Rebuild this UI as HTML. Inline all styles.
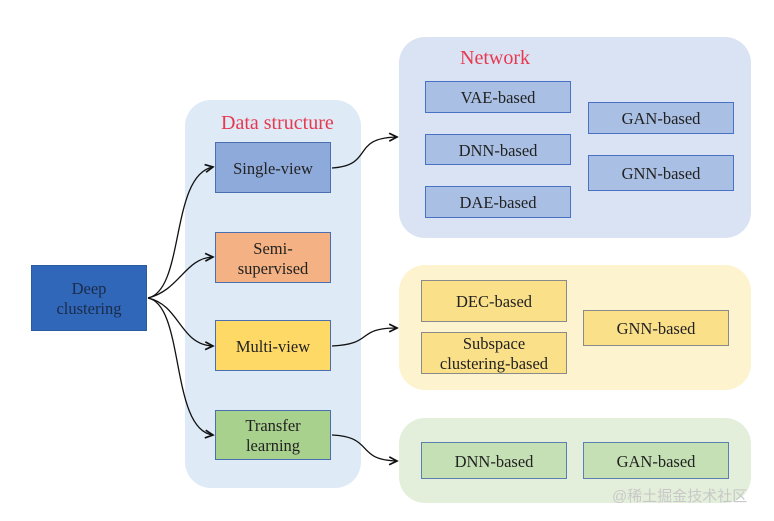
<!DOCTYPE html>
<html><head><meta charset="utf-8"><style>
body{margin:0;width:774px;height:521px;background:#fff;overflow:hidden;position:relative;font-family:"Liberation Serif",serif;}
.p{position:absolute;border-radius:26px;}
.b{position:absolute;box-sizing:border-box;display:flex;align-items:center;justify-content:center;text-align:center;font-size:16.5px;line-height:20px;color:#222;padding-top:2px;}
.t{position:absolute;color:#e8384f;font-size:20px;}
</style></head><body>
<div class="p" style="left:185px;top:100px;width:176px;height:388px;background:#deebf7;"></div>
<div class="p" style="left:399px;top:37px;width:352px;height:201px;background:#dae3f3;"></div>
<div class="p" style="left:399px;top:265px;width:352px;height:125px;background:#fdf3cf;"></div>
<div class="p" style="left:399px;top:418px;width:352px;height:85px;background:#e3efda;"></div>
<div class="t" style="left:221px;top:112px;">Data structure</div>
<div class="t" style="left:460px;top:47px;">Network</div>

<div class="b" style="left:31px;top:265px;width:116px;height:66px;background:#3067b8;border:1px solid #2a5aa0;color:#1b2b4a;">Deep<br>clustering</div>
<div class="b" style="left:215px;top:142px;width:116px;height:51px;background:#8eaadb;border:1.5px solid #4a6fb0;">Single-view</div>
<div class="b" style="left:215px;top:232px;width:116px;height:51px;background:#f4b183;border:1.5px solid #4a6fb0;">Semi-<br>supervised</div>
<div class="b" style="left:215px;top:320px;width:116px;height:51px;background:#ffd966;border:1.5px solid #4a6fb0;">Multi-view</div>
<div class="b" style="left:215px;top:410px;width:116px;height:50px;background:#a9d18e;border:1.5px solid #4a6fb0;">Transfer<br>learning</div>

<div class="b" style="left:425px;top:81px;width:146px;height:32px;background:#a9bfe3;border:1.5px solid #4a72c4;">VAE-based</div>
<div class="b" style="left:425px;top:134px;width:146px;height:31px;background:#a9bfe3;border:1.5px solid #4a72c4;">DNN-based</div>
<div class="b" style="left:425px;top:186px;width:146px;height:32px;background:#a9bfe3;border:1.5px solid #4a72c4;">DAE-based</div>
<div class="b" style="left:588px;top:102px;width:146px;height:32px;background:#a9bfe3;border:1.5px solid #4a72c4;">GAN-based</div>
<div class="b" style="left:588px;top:155px;width:146px;height:36px;background:#a9bfe3;border:1.5px solid #4a72c4;">GNN-based</div>

<div class="b" style="left:421px;top:280px;width:146px;height:42px;background:#fbe08a;border:1.5px solid #8a8a8a;">DEC-based</div>
<div class="b" style="left:421px;top:332px;width:146px;height:42px;background:#fbe08a;border:1.5px solid #8a8a8a;">Subspace<br>clustering-based</div>
<div class="b" style="left:583px;top:310px;width:146px;height:36px;background:#fbe08a;border:1.5px solid #8a8a8a;">GNN-based</div>

<div class="b" style="left:421px;top:442px;width:146px;height:37px;background:#c5e0b4;border:1.5px solid #5a7fb0;">DNN-based</div>
<div class="b" style="left:583px;top:442px;width:146px;height:37px;background:#c5e0b4;border:1.5px solid #5a7fb0;">GAN-based</div>

<div style="position:absolute;left:612px;top:485px;font-size:15px;color:#c8c8c8;font-family:'Liberation Sans','Noto Sans CJK SC',sans-serif;">@稀土掘金技术社区</div>

<svg width="774" height="521" style="position:absolute;left:0;top:0" fill="none" stroke="#111" stroke-width="1.3">
<defs><marker id="a" markerWidth="8" markerHeight="8" refX="7" refY="4" orient="auto"><path d="M1,1 L7,4 L1,7" stroke="#111" fill="none"/></marker></defs>
<path d="M148,298 C185,290 170,175 213,167" marker-end="url(#a)"/>
<path d="M148,298 C180,290 185,258 213,257" marker-end="url(#a)"/>
<path d="M148,298 C180,305 180,345 213,346" marker-end="url(#a)"/>
<path d="M148,298 C185,305 170,430 213,435" marker-end="url(#a)"/>
<path d="M332,168 C375,165 350,138 397,137" marker-end="url(#a)"/>
<path d="M332,346 C375,344 355,328 397,328" marker-end="url(#a)"/>
<path d="M332,435 C375,437 355,460 397,461" marker-end="url(#a)"/>
</svg>
</body></html>
